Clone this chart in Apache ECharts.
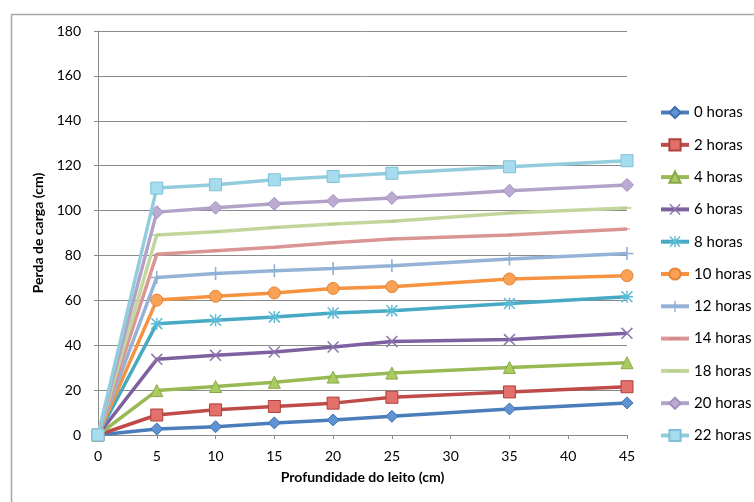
<!DOCTYPE html>
<html>
<head>
<meta charset="utf-8">
<script src="https://cdn.jsdelivr.net/npm/echarts@6/dist/echarts.min.js"></script>
<style>
html,body{margin:0;padding:0;background:#fff;}
#c{width:754px;height:502px;}
</style>
</head>
<body>
<div id="c"></div>
<script>
const depth = [0, 5, 10, 15, 20, 25, 35, 45];
const seriesNames = ['0 horas','2 horas','4 horas','6 horas','8 horas','10 horas','12 horas','14 horas','18 horas','20 horas','22 horas'];
const h0  = [0, 2.7, 3.7, 5.4, 6.7, 8.3, 11.6, 14.3];
const h2  = [0, 8.9, 11.2, 12.7, 14.2, 16.8, 19.2, 21.5];
const h4  = [0, 19.8, 21.6, 23.5, 25.8, 27.6, 30.1, 32.2];
const h6  = [0, 33.7, 35.5, 37.0, 39.2, 41.7, 42.5, 45.3];
const h8  = [0, 49.6, 51.1, 52.6, 54.4, 55.4, 58.6, 61.6];
const h10 = [0, 60.1, 61.8, 63.3, 65.3, 66.1, 69.5, 71.0];
const h12 = [0, 70.2, 72.0, 73.2, 74.2, 75.4, 78.4, 80.9];
const h14 = [0, 80.5, 82.1, 83.6, 85.7, 87.3, 89.1, 91.8];
const h18 = [0, 89.1, 90.6, 92.5, 94.0, 95.2, 98.9, 101.1];
const h20 = [0, 99.3, 101.3, 103.0, 104.3, 105.6, 108.8, 111.4];
const h22 = [0, 110.0, 111.5, 113.7, 115.2, 116.6, 119.5, 122.2];
const allValues = [h0,h2,h4,h6,h8,h10,h12,h14,h18,h20,h22];

const PLUS = 'path://M4.4,0H5.6V4.4H10V5.6H5.6V10H4.4V5.6H0V4.4H4.4Z';
const XMARK = 'path://M0,0.9L0.9,0L10,9.1L9.1,10Z M9.1,0L10,0.9L0.9,10L0,9.1Z';
const STAR = 'path://M4.4,0H5.6V4.4H10V5.6H5.6V10H4.4V5.6H0V4.4H4.4Z M0,0.9L0.9,0L10,9.1L9.1,10Z M9.1,0L10,0.9L0.9,10L0,9.1Z';
const DASH = 'path://M0,0Z M0,4.2H10V5.8H0Z M10,10Z';

const styles = [
  {line:'#4A7EBB', fill:'#5F93D3', border:'#3F6FAA', symbol:'diamond', size:12, bw:1},
  {line:'#BE4B48', fill:'#E2706B', border:'#B0413E', symbol:'rect', size:12, bw:1},
  {line:'#98B954', fill:'#A9CC5E', border:'#89A84C', symbol:'triangle', size:12, bw:1},
  {line:'#7D60A0', fill:'#8E74AE', border:'#8E74AE', symbol:XMARK, size:12, bw:0},
  {line:'#46AAC5', fill:'#5ABBD4', border:'#5ABBD4', symbol:STAR, size:12, bw:0},
  {line:'#F69240', fill:'#F9A154', border:'#E3843A', symbol:'circle', size:12, bw:1},
  {line:'#94B3D6', fill:'#8EAED4', border:'#8EAED4', symbol:PLUS, size:13, bw:0},
  {line:'#DA9694', fill:'#D08583', border:'#D08583', symbol:DASH, size:6, bw:0},
  {line:'#C3D69B', fill:'#B5CB89', border:'#B5CB89', symbol:DASH, size:9, bw:0},
  {line:'#B3A2C7', fill:'#BBAAD2', border:'#A28FBF', symbol:'diamond', size:13, bw:1},
  {line:'#93CDDD', fill:'#A5DDEE', border:'#7FC0D6', symbol:'rect', size:12, bw:1}
];

const FONT = 'Lato';
const series = seriesNames.map((name, i) => ({
  name: name,
  type: 'line',
  data: depth.map((d, j) => [d, allValues[i][j]]),
  symbol: styles[i].symbol,
  symbolSize: styles[i].size,
  showAllSymbol: true,
  lineStyle: {color: styles[i].line, width: 3.5},
  itemStyle: {color: styles[i].fill, borderColor: styles[i].border, borderWidth: styles[i].bw},
  emphasis: {disabled: true},
  z: 2 + i
}));

const chart = echarts.init(document.getElementById('c'), null, {renderer: 'canvas'});
chart.setOption({
  animation: false,
  backgroundColor: '#fff',
  graphic: [{
    type: 'rect',
    shape: {x: 11.5, y: 14.5, width: 780, height: 520},
    style: {fill: 'none', stroke: '#a8a8a8', lineWidth: 1.5},
    silent: true, z: -10
  }],
  grid: {left: 98, top: 31, width: 529, height: 404, containLabel: false},
  legend: {
    orient: 'vertical',
    left: 654,
    top: 100,
    itemWidth: 28,
    itemHeight: 14,
    itemGap: 17.3,
    lineStyle: {width: 4},
    textStyle: {fontFamily: FONT, fontSize: 15, color: '#000'},
    data: seriesNames
  },
  xAxis: {
    type: 'value',
    min: 0, max: 45, interval: 5,
    name: 'Profundidade do leito (cm)',
    nameLocation: 'middle',
    nameGap: 35,
    nameTextStyle: {fontFamily: FONT, fontSize: 14, fontWeight: 'bold', color: '#000'},
    axisLine: {show: true, lineStyle: {color: '#8a8a8a', width: 1}},
    axisTick: {show: true, length: 4, lineStyle: {color: '#8a8a8a'}},
    axisLabel: {fontFamily: FONT, fontSize: 14, color: '#000', margin: 14},
    splitLine: {show: false}
  },
  yAxis: {
    type: 'value',
    min: 0, max: 180, interval: 20,
    name: 'Perda de carga (cm)',
    nameLocation: 'middle',
    nameGap: 51,
    nameTextStyle: {fontFamily: FONT, fontSize: 14, fontWeight: 'bold', color: '#000'},
    axisLine: {show: true, lineStyle: {color: '#8a8a8a', width: 1}},
    axisTick: {show: true, length: 4, lineStyle: {color: '#8a8a8a'}},
    axisLabel: {fontFamily: FONT, fontSize: 14, color: '#000', margin: 17},
    splitLine: {show: true, lineStyle: {color: '#8a8a8a', width: 1}}
  },
  series: series
});
</script>
</body>
</html>
